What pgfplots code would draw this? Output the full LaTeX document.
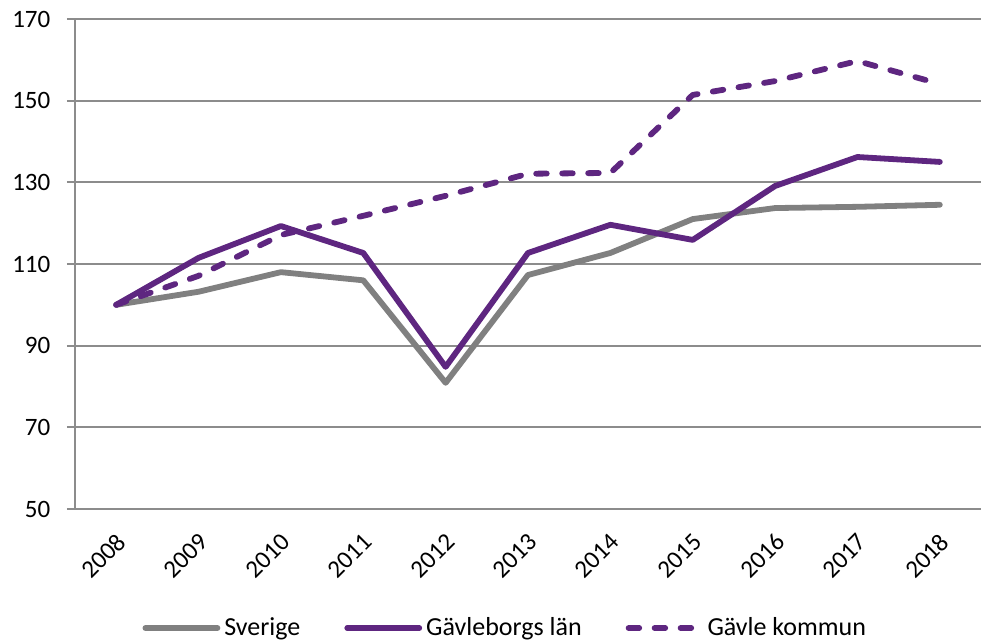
\documentclass[border=0pt]{standalone}
\usepackage{fontspec}
\setmainfont{Carlito}
\usepackage{pgfplots}
\pgfplotsset{compat=1.18}
\definecolor{lila}{RGB}{94,38,128}
\definecolor{gra}{RGB}{128,128,128}
\definecolor{gridc}{RGB}{140,140,140}
\begin{document}
\fontsize{12.5pt}{15pt}\selectfont
\begin{tikzpicture}
\useasboundingbox (-37.5pt,-65.5pt) rectangle (453pt,254.5pt);
\begin{axis}[
  at={(0,0)}, anchor=south west,
  scale only axis,
  width=453pt, height=245pt,
  xmin=-0.5, xmax=10.5,
  ymin=50, ymax=170,
  ytick={50,70,...,170},
  xtick={0,...,10},
  xticklabels={2008,2009,2010,2011,2012,2013,2014,2015,2016,2017,2018},
  x tick label style={xshift=-0.5pt, yshift=-5.8pt, rotate=45, anchor=north east, inner sep=1pt, font=\fontsize{12.5pt}{15pt}\selectfont},
  y tick label style={xshift=-4pt, font=\fontsize{12.5pt}{15pt}\selectfont},
  major x tick style={draw=none},
  extra x ticks={-0.5,0.5,...,10.5},
  extra x tick labels={},
  extra x tick style={major tick length=4pt, tick style={gridc, line width=1pt}, grid=none},
  tick align=outside,
  major tick length=4pt,
  tick style={gridc, line width=1pt},
  axis x line*=bottom,
  axis y line*=left,
  axis line style={gridc, line width=1pt, -},
  ymajorgrids,
  grid style={gridc, line width=1pt},
  /pgf/number format/assume math mode=true,
  legend columns=3,
  legend style={draw=none, at={(0.476,-0.243)}, anchor=center, font=\fontsize{13pt}{15pt}\selectfont,
    /tikz/every even column/.append style={column sep=20pt}},
  legend image code/.code={\draw[#1] (0pt,0pt) -- (36pt,0pt);},
  legend cell align=left,
]
\addplot[gra, line width=2.9pt, line cap=round, line join=round] coordinates {
(0,100) (1,103.2) (2,108) (3,106) (4,80.9) (5,107.3) (6,112.7) (7,121) (8,123.7) (9,124) (10,124.5)};
\addlegendentry{Sverige}
\addplot[lila, line width=2.9pt, line cap=round, line join=round] coordinates {
(0,100) (1,111.5) (2,119.3) (3,112.7) (4,84.8) (5,112.7) (6,119.6) (7,115.9) (8,129.1) (9,136.2) (10,135)};
\addlegendentry{Gävleborgs län}
\addplot[lila, line width=2.9pt, line cap=round, line join=round, dash pattern=on 5.3pt off 7.7pt] coordinates {
(0,100) (1,107.1) (2,117.1) (3,121.8) (4,126.7) (5,132.1) (6,132.3) (7,151.4) (8,154.8) (9,159.7) (10,154.1)};
\addlegendentry{Gävle kommun}
\end{axis}
\end{tikzpicture}
\end{document}
